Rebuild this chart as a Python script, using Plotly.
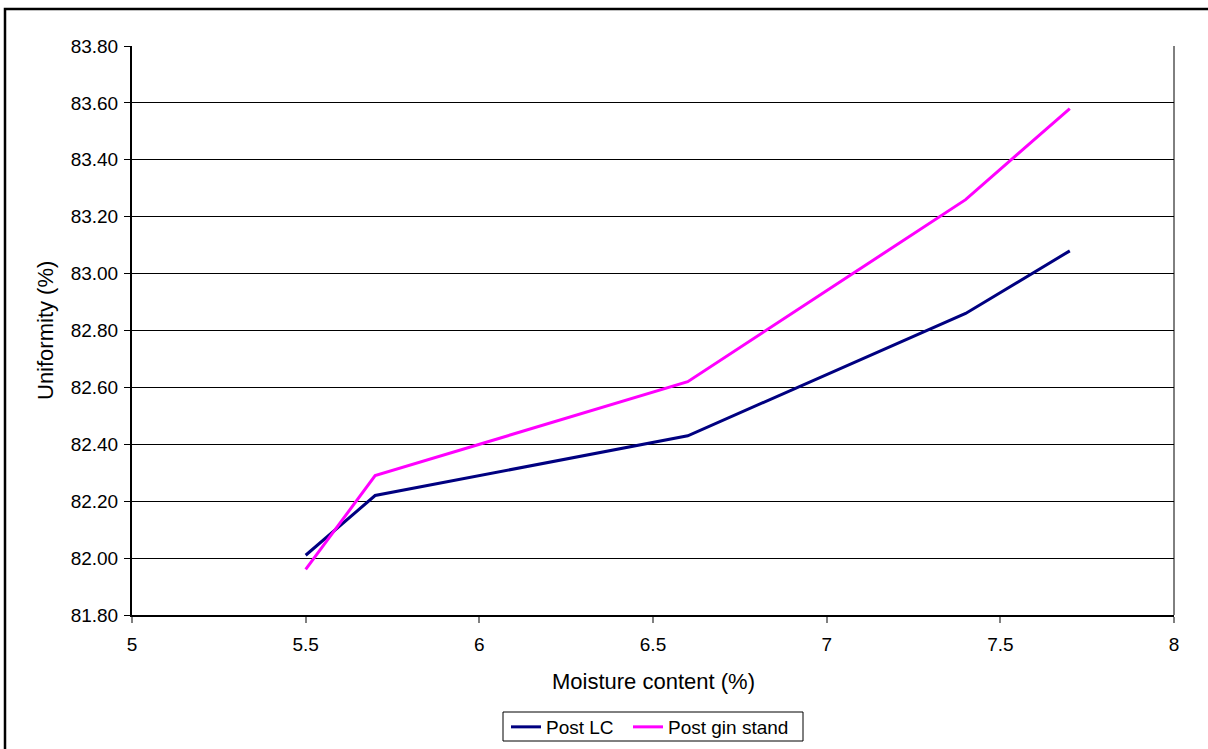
import plotly.graph_objects as go

# Moisture content (%) and uniformity (%) readings
moisture = [5.5, 5.7, 6.6, 7.4, 7.7]
post_lc = [82.01, 82.22, 82.43, 82.86, 83.08]
post_gin_stand = [81.96, 82.29, 82.62, 83.26, 83.58]

y_ticks = [81.8, 82.0, 82.2, 82.4, 82.6, 82.8, 83.0, 83.2, 83.4, 83.6, 83.8]
x_ticks = [5, 5.5, 6, 6.5, 7, 7.5, 8]

W, H = 1208, 749
ML, MR, MT, MB = 132, 34, 46, 134
pw, ph = W - ML - MR, H - MT - MB

FONT = "Liberation Sans, Arial, sans-serif"


def px_x(px):
    return (px - ML) / pw


def px_y(py):
    return (MT + ph - py) / ph


def legend_at(px_left):
    return dict(orientation="h", x=px_x(px_left), xanchor="left", xref="paper",
                y=1 - 708 / H, yref="container", yanchor="top",
                borderwidth=0, bgcolor="rgba(0,0,0,0)",
                font=dict(size=19, family=FONT, color="black"), itemwidth=30)


fig = go.Figure()
fig.add_trace(go.Scatter(x=moisture, y=post_lc, mode="lines", name="Post LC",
                         line=dict(color="#000080", width=3), legend="legend"))
fig.add_trace(go.Scatter(x=moisture, y=post_gin_stand, mode="lines", name="Post gin stand",
                         line=dict(color="#FF00FF", width=3), legend="legend2"))

fig.update_layout(
    width=W, height=H,
    margin=dict(l=ML, r=MR, t=MT, b=MB, autoexpand=False),
    paper_bgcolor="white", plot_bgcolor="white",
    font=dict(family=FONT, color="black", size=19),
    showlegend=True,
    legend=legend_at(506),
    legend2=legend_at(628),
    xaxis=dict(range=[5, 8], tickvals=x_ticks, ticktext=[str(v) for v in x_ticks],
               showgrid=False, zeroline=False, showline=True, linecolor="black",
               linewidth=2, mirror=False, ticks="outside", ticklen=6,
               tickcolor="#808080", tickwidth=2, automargin=False,
               ticklabelstandoff=5,
               tickfont=dict(size=19, family=FONT)),
    yaxis=dict(range=[81.8, 83.8], tickvals=y_ticks,
               ticktext=[f"{v:.2f}" for v in y_ticks],
               showgrid=True, gridcolor="black", gridwidth=1, zeroline=False,
               showline=True, linecolor="black", linewidth=2, automargin=False,
               ticks="outside", ticklen=6, tickcolor="black", tickwidth=1,
               ticklabelstandoff=2,
               tickfont=dict(size=19, family=FONT)),
    annotations=[
        dict(text="Moisture content (%)", xref="paper", yref="paper",
             x=0.5, y=px_y(681), xanchor="center", yanchor="middle",
             showarrow=False, font=dict(size=22, family=FONT, color="black")),
        dict(text="Uniformity (%)", xref="paper", yref="paper",
             x=px_x(45), y=px_y(331), xanchor="center", yanchor="middle",
             textangle=-90, showarrow=False,
             font=dict(size=22, family=FONT, color="black")),
    ],
    shapes=[
        # right edge of the plot area
        dict(type="line", xref="paper", yref="paper", x0=1, x1=1, y0=0, y1=1,
             line=dict(color="black", width=1)),
        # legend frame
        dict(type="rect", xref="paper", yref="paper",
             x0=px_x(503), x1=px_x(803), y0=px_y(741), y1=px_y(712),
             line=dict(color="black", width=1), fillcolor="rgba(0,0,0,0)"),
        # outer chart frame
        dict(type="rect", xref="paper", yref="paper",
             x0=px_x(5), x1=px_x(W + 20), y0=px_y(H + 20), y1=px_y(9),
             line=dict(color="black", width=2.5), fillcolor="rgba(0,0,0,0)"),
    ],
)

fig.write_html("out.html")
